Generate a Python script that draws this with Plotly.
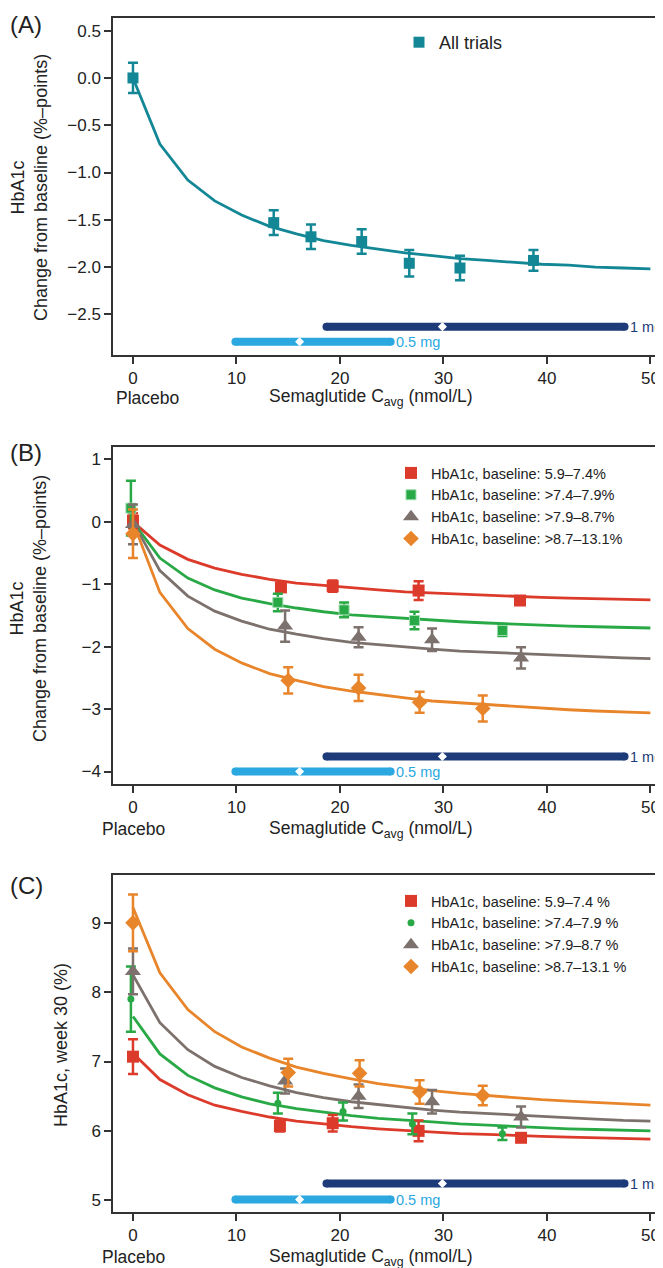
import plotly.graph_objects as go

FONT = "Liberation Sans, Arial, sans-serif"

# colours
TEAL = "#138796"
RED = "#dc3b2b"
GREEN = "#28a946"
GRAY = "#7c716c"
ORANGE = "#e8852b"
NAVY = "#1d3b78"
SKY = "#2aa8df"

# x grid of the fitted exposure-response curves
curve_x = [0, 2.6, 5.3, 7.9, 10.5, 13.2, 15.8, 18.4, 21.1, 23.7, 26.3, 28.9,
           31.6, 34.2, 36.8, 39.5, 42.1, 44.7, 47.4, 50]

# (A) all trials, change from baseline
a_x = [0, 13.6, 17.2, 22.1, 26.7, 31.6, 38.7]
a_y = [0.0, -1.53, -1.68, -1.73, -1.96, -2.01, -1.93]
a_err = [0.16, 0.13, 0.13, 0.13, 0.14, 0.13, 0.11]
a_curve = [0, -0.70, -1.08, -1.30, -1.45, -1.57, -1.65, -1.72, -1.77, -1.81,
           -1.85, -1.88, -1.91, -1.93, -1.95, -1.97, -1.98, -2.00, -2.01, -2.02]

# (B) change from baseline by baseline HbA1c
b_red_x = [0, 14.3, 19.3, 27.6, 37.4]
b_red_y = [0.02, -1.05, -1.03, -1.10, -1.26]
b_red_err = [0.12, 0.05, 0.09, 0.15, 0.05]
b_green_x = [-0.2, 14.0, 20.4, 27.2, 35.7]
b_green_y = [0.22, -1.29, -1.41, -1.58, -1.74]
b_green_err = [0.44, 0.14, 0.12, 0.14, 0.09]
b_gray_x = [0, 14.7, 21.8, 28.9, 37.5]
b_gray_y = [-0.04, -1.67, -1.85, -1.89, -2.18]
b_gray_err = [0.32, 0.25, 0.16, 0.18, 0.17]
b_orange_x = [0, 15.0, 21.8, 27.7, 33.8]
b_orange_y = [-0.19, -2.54, -2.66, -2.89, -2.99]
b_orange_err = [0.39, 0.21, 0.21, 0.17, 0.21]

b_red_curve = [0, -0.37, -0.60, -0.74, -0.84, -0.92, -0.98, -1.02, -1.06, -1.09,
               -1.12, -1.14, -1.16, -1.18, -1.19, -1.21, -1.22, -1.23, -1.24, -1.25]
b_green_curve = [0, -0.58, -0.90, -1.09, -1.22, -1.31, -1.38, -1.44, -1.49, -1.52,
                 -1.55, -1.58, -1.60, -1.62, -1.64, -1.65, -1.67, -1.68, -1.69, -1.70]
b_gray_curve = [0, -0.78, -1.19, -1.43, -1.59, -1.72, -1.80, -1.87, -1.93, -1.97,
                -2.01, -2.04, -2.07, -2.09, -2.11, -2.13, -2.15, -2.16, -2.18, -2.19]
b_orange_curve = [0, -1.13, -1.71, -2.04, -2.26, -2.43, -2.54, -2.64, -2.71, -2.77,
                  -2.82, -2.87, -2.90, -2.93, -2.96, -2.99, -3.01, -3.03, -3.05, -3.06]

# (C) HbA1c at week 30 by baseline HbA1c
c_red_x = [0, 14.2, 19.3, 27.6, 37.5]
c_red_y = [7.07, 6.07, 6.11, 6.00, 5.90]
c_red_err = [0.25, 0.08, 0.12, 0.15, 0.04]
c_green_x = [-0.2, 14.0, 20.3, 27.0, 35.7]
c_green_y = [7.90, 6.40, 6.28, 6.10, 5.96]
c_green_err = [0.47, 0.15, 0.13, 0.15, 0.09]
c_gray_x = [0, 14.7, 21.8, 28.9, 37.5]
c_gray_y = [8.30, 6.72, 6.50, 6.42, 6.20]
c_gray_err = [0.33, 0.18, 0.17, 0.17, 0.15]
c_orange_x = [0, 15.0, 21.9, 27.7, 33.8]
c_orange_y = [9.00, 6.84, 6.83, 6.56, 6.51]
c_orange_err = [0.41, 0.20, 0.19, 0.17, 0.14]

c_red_curve = [7.12, 6.74, 6.52, 6.37, 6.28, 6.20, 6.14, 6.10, 6.06, 6.03,
               6.01, 5.98, 5.96, 5.95, 5.93, 5.92, 5.91, 5.90, 5.89, 5.88]
c_green_curve = [7.65, 7.11, 6.80, 6.62, 6.49, 6.39, 6.32, 6.27, 6.22, 6.18,
                 6.15, 6.13, 6.10, 6.08, 6.06, 6.05, 6.03, 6.02, 6.01, 6.00]
c_gray_curve = [8.25, 7.56, 7.17, 6.93, 6.77, 6.65, 6.55, 6.48, 6.42, 6.38,
                6.34, 6.30, 6.27, 6.25, 6.22, 6.20, 6.18, 6.17, 6.15, 6.14]
c_orange_curve = [9.22, 8.28, 7.75, 7.43, 7.21, 7.05, 6.92, 6.83, 6.75, 6.68,
                  6.63, 6.58, 6.54, 6.51, 6.48, 6.45, 6.43, 6.41, 6.39, 6.37]

# exposure ranges: [min, median, max] Cavg per dose
dose_1mg = [18.7, 29.9, 47.5]
dose_05mg = [9.9, 16.1, 24.9]
# height of the exposure bars in each panel (1 mg, 0.5 mg)
bar_levels = {"A": [-2.63, -2.79], "B": [-3.76, -4.0], "C": [5.24, 5.01]}

names_b = ["HbA1c, baseline: 5.9\u20137.4%", "HbA1c, baseline: >7.4\u20137.9%",
           "HbA1c, baseline: >7.9\u20138.7%", "HbA1c, baseline: >8.7\u201313.1%"]
names_c = ["HbA1c, baseline: 5.9\u20137.4 %", "HbA1c, baseline: >7.4\u20137.9 %",
           "HbA1c, baseline: >7.9\u20138.7 %", "HbA1c, baseline: >8.7\u201313.1 %"]

fig = go.Figure()


def add_curve(y, color, xa, ya):
    fig.add_trace(go.Scatter(x=curve_x, y=y, mode="lines", showlegend=False,
                             line=dict(color=color, width=2.8),
                             xaxis=xa, yaxis=ya, hoverinfo="skip"))


def add_points(x, y, err, name, color, symbol, size, xa, ya, legend, line=None):
    fig.add_trace(go.Scatter(
        x=x, y=y, mode="markers", name=name, legend=legend,
        marker=dict(color=color, symbol=symbol, size=size,
                    line=line or dict(width=0)),
        error_y=dict(type="data", array=err, color=color, thickness=2.5, width=5),
        xaxis=xa, yaxis=ya))


def add_dose_bars(levels, xa, ya):
    for rng, lvl, color, label in [(dose_1mg, levels[0], NAVY, "1 mg"),
                                   (dose_05mg, levels[1], SKY, "0.5 mg")]:
        fig.add_trace(go.Scatter(x=[rng[0], rng[2]], y=[lvl, lvl], mode="lines+markers",
                                 line=dict(color=color, width=8),
                                 marker=dict(color=color, size=8, symbol="circle"),
                                 showlegend=False, xaxis=xa, yaxis=ya, hoverinfo="skip"))
        fig.add_trace(go.Scatter(x=[rng[1]], y=[lvl], mode="markers",
                                 marker=dict(color="white", size=7, symbol="diamond"),
                                 showlegend=False, xaxis=xa, yaxis=ya, hoverinfo="skip"))
        fig.add_annotation(x=rng[2], y=lvl, xref=xa, yref=ya, text=label,
                           showarrow=False, xanchor="left", xshift=3,
                           font=dict(size=14.5, color=color, family=FONT))


# panel A
add_curve(a_curve, TEAL, "x", "y")
add_dose_bars(bar_levels["A"], "x", "y")
add_points(a_x, a_y, a_err, "All trials", TEAL, "square", 11, "x", "y", "legend")

# panel B
for cv, col in [(b_red_curve, RED), (b_green_curve, GREEN),
                (b_gray_curve, GRAY), (b_orange_curve, ORANGE)]:
    add_curve(cv, col, "x2", "y2")
add_dose_bars(bar_levels["B"], "x2", "y2")
add_points(b_red_x, b_red_y, b_red_err, names_b[0], RED, "square", 12, "x2", "y2", "legend2")
add_points(b_green_x, b_green_y, b_green_err, names_b[1], GREEN, "square", 10, "x2", "y2",
           "legend2", line=dict(color="#9fdcb0", width=1))
add_points(b_gray_x, b_gray_y, b_gray_err, names_b[2], GRAY, "triangle-up", 14, "x2", "y2", "legend2")
add_points(b_orange_x, b_orange_y, b_orange_err, names_b[3], ORANGE, "diamond", 12, "x2", "y2", "legend2")

# panel C
for cv, col in [(c_red_curve, RED), (c_green_curve, GREEN),
                (c_gray_curve, GRAY), (c_orange_curve, ORANGE)]:
    add_curve(cv, col, "x3", "y3")
add_dose_bars(bar_levels["C"], "x3", "y3")
add_points(c_red_x, c_red_y, c_red_err, names_c[0], RED, "square", 12, "x3", "y3", "legend3")
add_points(c_green_x, c_green_y, c_green_err, names_c[1], GREEN, "circle", 7, "x3", "y3", "legend3")
add_points(c_gray_x, c_gray_y, c_gray_err, names_c[2], GRAY, "triangle-up", 14, "x3", "y3", "legend3")
add_points(c_orange_x, c_orange_y, c_orange_err, names_c[3], ORANGE, "diamond", 12, "x3", "y3", "legend3")

W, H = 663, 1268
XDOM = [105 / W, 660 / W]


def ydom(top, bottom):
    return [1 - bottom / H, 1 - top / H]


ax_common = dict(showline=True, linecolor="#333", linewidth=1.5, mirror=True,
                 ticks="outside", ticklen=7, tickwidth=1.5, tickcolor="#333",
                 showgrid=False, zeroline=False,
                 tickfont=dict(size=17, color="#222", family=FONT))
x_common = dict(ax_common, range=[-1.93, 51.7], tickvals=[0, 10, 20, 30, 40, 50], domain=XDOM)

fig.update_layout(
    width=W, height=H,
    margin=dict(l=0, r=0, t=0, b=0),
    paper_bgcolor="white", plot_bgcolor="white",
    font=dict(family=FONT, color="#222"),
    xaxis=dict(x_common, anchor="y"),
    yaxis=dict(ax_common, anchor="x", domain=ydom(10, 347), range=[-2.93, 0.634],
               tickvals=[0.5, 0, -0.5, -1, -1.5, -2, -2.5], tickformat=".1f"),
    xaxis2=dict(x_common, anchor="y2"),
    yaxis2=dict(ax_common, anchor="x2", domain=ydom(439, 776), range=[-4.2, 1.2],
                tickvals=[1, 0, -1, -2, -3, -4]),
    xaxis3=dict(x_common, anchor="y3"),
    yaxis3=dict(ax_common, anchor="x3", domain=ydom(867, 1204), range=[4.83, 9.69],
                tickvals=[5, 6, 7, 8, 9]),
    legend=dict(x=391 / W, y=1 - 16 / H, xanchor="left", yanchor="top",
                bgcolor="rgba(0,0,0,0)", font=dict(size=18, family=FONT)),
    legend2=dict(x=383 / W, y=1 - 449 / H, xanchor="left", yanchor="top",
                 bgcolor="rgba(0,0,0,0)", font=dict(size=14.5, family=FONT), tracegroupgap=0),
    legend3=dict(x=383 / W, y=1 - 877 / H, xanchor="left", yanchor="top",
                 bgcolor="rgba(0,0,0,0)", font=dict(size=14.5, family=FONT), tracegroupgap=0),
)

# panel letters, axis titles and the placebo labels
for label, ypx in [("(A)", 16), ("(B)", 444), ("(C)", 877)]:
    fig.add_annotation(x=0, y=1 - ypx / H, xref="paper", yref="paper", text=label,
                       showarrow=False, xanchor="left", yanchor="middle",
                       font=dict(size=24, family=FONT, color="#222"))

for ypx, cx in [(180, 21), (601, 21)]:
    fig.add_annotation(x=cx / W, y=1 - ypx / H, xref="paper", yref="paper",
                       text="HbA1c<br>Change from baseline (%\u2013points)", textangle=-90,
                       showarrow=False, xanchor="center", yanchor="middle",
                       font=dict(size=18, family=FONT, color="#222"))
fig.add_annotation(x=53 / W, y=1 - 1037 / H, xref="paper", yref="paper",
                   text="HbA1c, week 30 (%)", textangle=-90, showarrow=False,
                   xanchor="center", yanchor="middle",
                   font=dict(size=18, family=FONT, color="#222"))

for ypx, px in [(390, 139), (821, 125), (1249, 125)]:
    fig.add_annotation(x=px / W, y=1 - ypx / H, xref="paper", yref="paper", text="Placebo",
                       showarrow=False, xanchor="center", yanchor="middle",
                       font=dict(size=17.5, family=FONT, color="#222"))
    fig.add_annotation(x=259 / W, y=1 - ypx / H, xref="paper", yref="paper",
                       text="Semaglutide C<sub>avg</sub> (nmol/L)",
                       showarrow=False, xanchor="left", yanchor="middle",
                       font=dict(size=17.5, family=FONT, color="#222"))

fig.write_html("out.html")
